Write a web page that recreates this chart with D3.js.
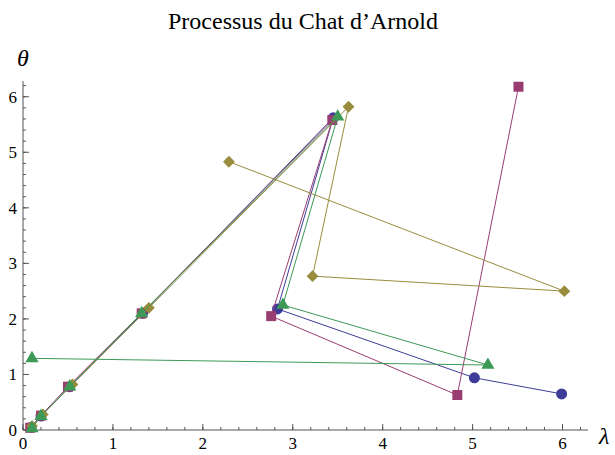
<!DOCTYPE html>
<html>
<head>
<meta charset="utf-8">
<script src="https://d3js.org/d3.v7.min.js"></script>
<style>
  body { margin: 0; background: #fff; }
  text { font-family: "Liberation Serif", "Times New Roman", serif; }
</style>
</head>
<body>
<svg id="chart"></svg>
<script>
// values (lambda, theta)
var seriesNames = ['s1', 's2', 's3', 's4'];
var lambdaBlue   = [0.09, 0.20, 0.52, 1.33, 3.45, 2.83, 5.02, 5.99];
var thetaBlue    = [0.05, 0.25, 0.78, 2.10, 5.62, 2.18, 0.94, 0.65];
var lambdaPurple = [0.08, 0.20, 0.50, 1.32, 3.44, 2.76, 4.83, 5.51];
var thetaPurple  = [0.04, 0.26, 0.78, 2.10, 5.58, 2.05, 0.63, 6.18];
var lambdaKhaki  = [0.10, 0.22, 0.55, 1.40, 3.62, 3.22, 6.02, 2.29];
var thetaKhaki   = [0.07, 0.28, 0.82, 2.20, 5.82, 2.77, 2.50, 4.83];
var lambdaGreen  = [0.10, 0.20, 0.52, 1.32, 3.50, 2.89, 5.17, 0.10];
var thetaGreen   = [0.03, 0.25, 0.78, 2.10, 5.64, 2.25, 1.17, 1.29];
var xTicks = [0, 1, 2, 3, 4, 5, 6];
var yTicks = [0, 1, 2, 3, 4, 5, 6];

var W = 615, H = 455;
var margin = { left: 23, right: 27, top: 81, bottom: 25 };

var svg = d3.select('#chart').attr('width', W).attr('height', H);

var x = d3.scaleLinear().domain([0, 2 * Math.PI]).range([margin.left, W - margin.right]);
var y = d3.scaleLinear().domain([0, 2 * Math.PI]).range([H - margin.bottom, margin.top]);

function pts(lx, ty) { return lx.map((v, i) => [v, ty[i]]); }

var series = [
    { name: seriesNames[0], color: '#3d3d99', shape: d3.symbolCircle, size: 95, rot: 0, pts: pts(lambdaBlue, thetaBlue) },
    { name: seriesNames[1], color: '#993d71', shape: d3.symbolSquare, size: 100, rot: 0, pts: pts(lambdaPurple, thetaPurple) },
    { name: seriesNames[2], color: '#998c3d', shape: d3.symbolSquare, size: 70, rot: 45, pts: pts(lambdaKhaki, thetaKhaki) },
    { name: seriesNames[3], color: '#3d9956', shape: d3.symbolTriangle, size: 75, rot: 0, pts: pts(lambdaGreen, thetaGreen) }
];

var axisColor = '#555';
var minor = d3.range(0, 6.3, 0.2);

// x axis, ticks pointing into the plot
var gx = svg.append('g').attr('transform', `translate(0,${y(0)})`);
gx.append('line').attr('x1', x(0)).attr('x2', x(2 * Math.PI)).attr('stroke', axisColor);
gx.selectAll('.mn').data(minor).join('line')
    .attr('x1', d => x(d)).attr('x2', d => x(d)).attr('y1', 0).attr('y2', -3)
    .attr('stroke', axisColor);
gx.selectAll('.mj').data(xTicks).join('line')
    .attr('x1', d => x(d)).attr('x2', d => x(d)).attr('y1', 0).attr('y2', -6)
    .attr('stroke', axisColor);
gx.selectAll('text').data(xTicks).join('text')
    .attr('x', d => x(d)).attr('y', 19).attr('text-anchor', 'middle')
    .attr('font-size', 17).text(d => d);

// y axis
var gy = svg.append('g').attr('transform', `translate(${x(0)},0)`);
gy.append('line').attr('y1', y(0)).attr('y2', y(2 * Math.PI)).attr('stroke', axisColor);
gy.selectAll('.mn').data(minor).join('line')
    .attr('y1', d => y(d)).attr('y2', d => y(d)).attr('x1', 0).attr('x2', 3)
    .attr('stroke', axisColor);
gy.selectAll('.mj').data(yTicks).join('line')
    .attr('y1', d => y(d)).attr('y2', d => y(d)).attr('x1', 0).attr('x2', 6)
    .attr('stroke', axisColor);
gy.selectAll('text').data(yTicks).join('text')
    .attr('x', -6).attr('y', d => y(d) + 6).attr('text-anchor', 'end')
    .attr('font-size', 17).text(d => d);

// lines then markers
var line = d3.line().x(d => x(d[0])).y(d => y(d[1]));
series.forEach(s => {
    var g = svg.append('g');
    g.append('path').attr('d', line(s.pts)).attr('fill', 'none')
        .attr('stroke', s.color).attr('stroke-width', 1);
    g.selectAll('path.m').data(s.pts).join('path')
        .attr('class', 'm')
        .attr('d', d3.symbol().type(s.shape).size(s.size))
        .attr('transform', d => `translate(${x(d[0])},${y(d[1])}) rotate(${s.rot})`)
        .attr('fill', s.color);
});

// title and axis labels
svg.append('text').attr('x', 303).attr('y', 29).attr('text-anchor', 'middle')
    .attr('font-size', 24).text('Processus du Chat d\u2019Arnold');
svg.append('text').attr('x', 23).attr('y', 66).attr('text-anchor', 'middle')
    .attr('font-size', 24).attr('font-style', 'italic').text('\u03b8');
svg.append('text').attr('x', 599).attr('y', 444)
    .attr('font-size', 24).attr('font-style', 'italic').text('\u03bb');
</script>
</body>
</html>
